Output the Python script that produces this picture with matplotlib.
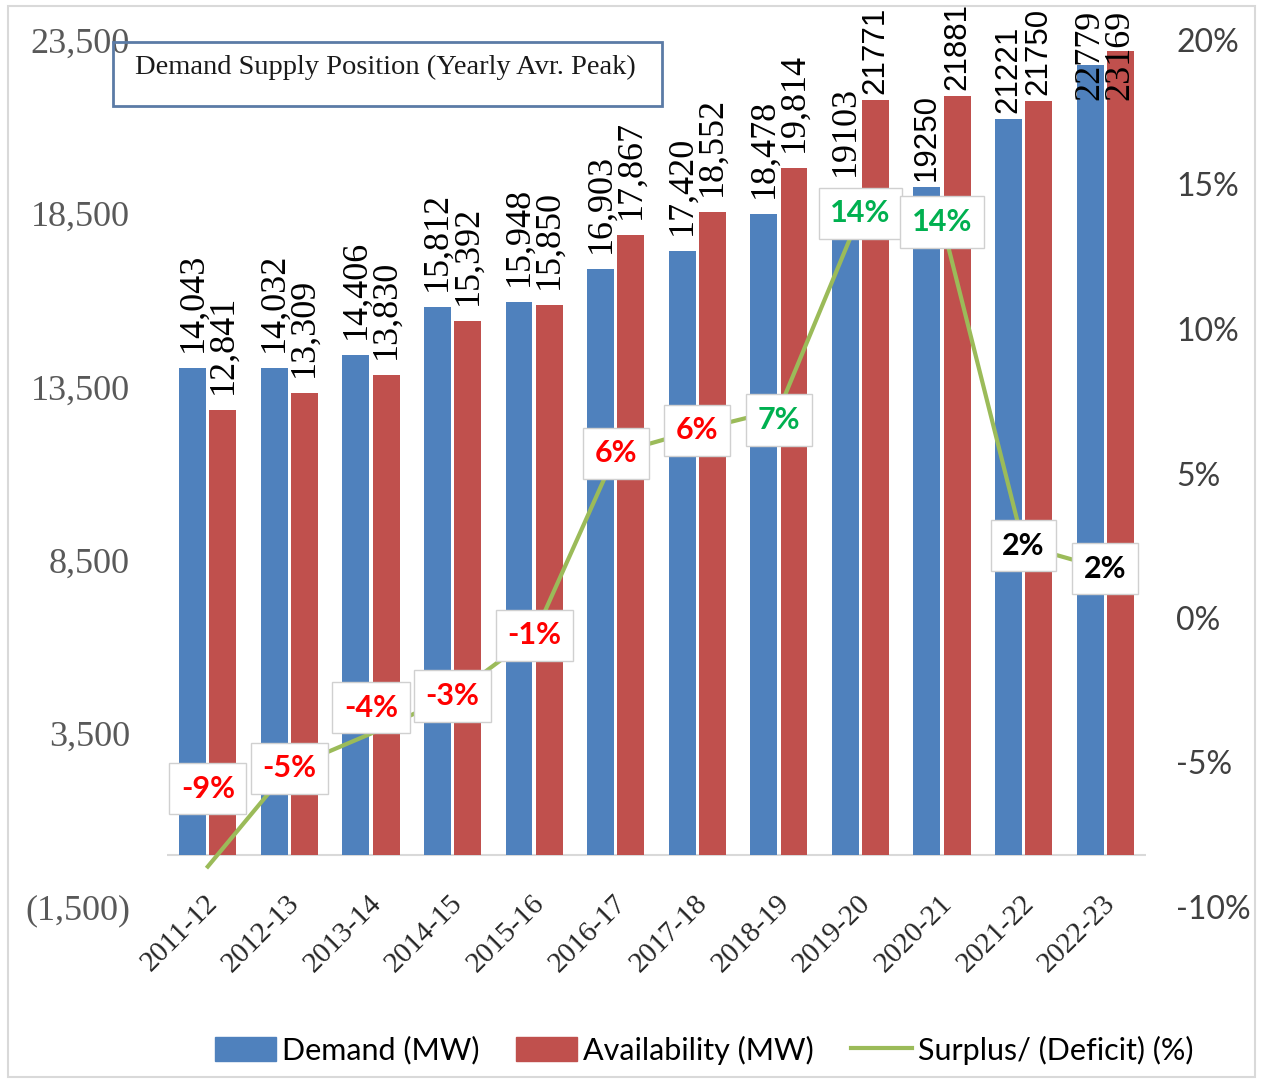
import matplotlib
matplotlib.use("Agg")
import matplotlib.pyplot as plt
from matplotlib.patches import Rectangle, Patch
from matplotlib.lines import Line2D
from matplotlib.ticker import FuncFormatter
import numpy as np

# ---- data ----
years = ["2011-12", "2012-13", "2013-14", "2014-15", "2015-16", "2016-17",
         "2017-18", "2018-19", "2019-20", "2020-21", "2021-22", "2022-23"]
demand = [14043, 14032, 14406, 15812, 15948, 16903, 17420, 18478,
          19103, 19250, 21221, 22779]
availability = [12841, 13309, 13830, 15392, 15850, 17867, 18552, 19814,
                21771, 21881, 21750, 23169]
surplus_pct = [-8.6, -5.2, -4.0, -2.7, -0.6, 5.7, 6.5, 7.2, 14.0, 13.7, 2.5, 1.7]

# label styling per point
pct_colors = ["#FF0000"] * 7 + ["#00B050"] * 3 + ["#000000"] * 2
pct_offsets_px = [78, 0, 26, 0, 0, 0, 0, -10, 0, 0, 0, 0]
# comma separators were dropped in the later years' labels
dem_comma = [True] * 8 + [False] * 4
av_comma = [True] * 8 + [False] * 4
dem_serif = [True] * 9 + [False, False, True]
av_serif = [True] * 8 + [False, False, False, True]
# last year's labels sit inside the bar tops
dem_inside_px = -35
av_inside_px = -49

BLUE = "#4F81BD"
RED = "#C0504D"
GREEN = "#9BBB59"
SERIF = "Liberation Serif"
SANS = "Lato"

W, H = 1264, 1080
fig = plt.figure(figsize=(W / 100, H / 100), dpi=100)
PT = 72 / 100  # points per pixel

ax = fig.add_axes([167 / W, 1 - 907 / H, (1146 - 167) / W, (907 - 40) / H])
ax2 = ax.twinx()

x = np.arange(len(years))
bw = 0.33
off = 0.185
ax.bar(x - off, demand, bw, color=BLUE, zorder=2)
ax.bar(x + off, availability, bw, color=RED, zorder=2)
ax.axhline(0, color="#D9D9D9", lw=1.5, zorder=1)

ax.set_xlim(-0.5, len(years) - 0.5)
ax.set_ylim(-1500, 23500)
ax.set_yticks(np.arange(-1500, 23501, 5000))
ax.yaxis.set_major_formatter(FuncFormatter(
    lambda v, p: f"({abs(v):,.0f})" if v < 0 else f"{v:,.0f}"))
ax.tick_params(axis="y", length=0, pad=37 * PT, labelsize=26,
               labelcolor="#595959")
for t in ax.get_yticklabels():
    t.set_fontfamily(SERIF)
ax.set_xticks([])

ax2.set_ylim(-10, 20)
ax2.set_yticks(np.arange(-10, 21, 5))
ax2.yaxis.set_major_formatter(FuncFormatter(lambda v, p: f"{v:.0f}%"))
ax2.tick_params(axis="y", length=0, pad=30 * PT, labelsize=23,
                labelcolor="#404040")
for t in ax2.get_yticklabels():
    t.set_fontfamily(SANS)

for a in (ax, ax2):
    for s in a.spines.values():
        s.set_visible(False)

# category labels, rotated, sitting just under the baseline
for i, lab in enumerate(years):
    ax.annotate(lab, xy=(i, 0), xycoords=ax.get_xaxis_transform(),
                xytext=(-3 * PT, 17 * PT), textcoords="offset points",
                rotation=45, rotation_mode="anchor", ha="right", va="top",
                fontsize=21, family=SERIF, color="#262626")

# bar value labels
def bar_label(xpos, val, comma, serif, inside=None):
    txt = f"{val:,}" if comma else f"{val}"
    fam = SERIF if serif else "Liberation Sans"
    size = 26 if serif else 22.5
    if inside is not None:
        dy = inside
    else:
        dy = 16 if serif else 6
    ax.annotate(txt, xy=(xpos, val), xytext=(0, dy * PT),
                textcoords="offset points", rotation=90, ha="center",
                va="bottom", fontsize=size, family=fam, color="#000000",
                zorder=5, annotation_clip=False)

n = len(years)
for i in range(n):
    last = i == n - 1
    bar_label(i - off, demand[i], dem_comma[i], dem_serif[i],
              dem_inside_px if last else None)
    bar_label(i + off, availability[i], av_comma[i], av_serif[i],
              av_inside_px if last else None)

# surplus / deficit line
ax2.plot(x, surplus_pct, color=GREEN, lw=3, zorder=3)
for i, v in enumerate(surplus_pct):
    ax2.annotate(f"{v:.0f}%", xy=(i, v), xytext=(0, pct_offsets_px[i] * PT),
                 textcoords="offset points", ha="center", va="center",
                 fontsize=22, fontweight="bold", family=SANS,
                 color=pct_colors[i], zorder=6,
                 bbox=dict(boxstyle="square,pad=0.38", fc="white",
                           ec="#D0D0D0", lw=1))

# chart title box
fig.patches.append(Rectangle((113 / W, 1 - 106 / H), 549 / W, 64 / H,
                             transform=fig.transFigure, fill=False,
                             ec="#5B7BA6", lw=2))
fig.text(135 / W, 1 - 67 / H, "Demand Supply Position (Yearly Avr. Peak)",
         family=SERIF, fontsize=20.5, color="#1A1A1A", va="center", ha="left")

# outer frame
fig.patches.append(Rectangle((8 / W, 1 - 1077 / H), 1247 / W, 1071 / H,
                             transform=fig.transFigure, fill=False,
                             ec="#D9D9D9", lw=1.5))

handles = [Patch(color=BLUE), Patch(color=RED),
           Line2D([0], [0], color=GREEN, lw=3)]
labels = ["Demand (MW)", "Availability (MW)", "Surplus/ (Deficit) (%)"]
fig.legend(handles, labels, loc="center", bbox_to_anchor=(704 / W, 1 - 1050 / H),
           ncol=3, frameon=False, prop={"family": SANS, "size": 22},
           handlelength=2.0, handleheight=0.8, handletextpad=0.2,
           columnspacing=1.2)

fig.savefig("out.png", dpi=100, facecolor="white")
